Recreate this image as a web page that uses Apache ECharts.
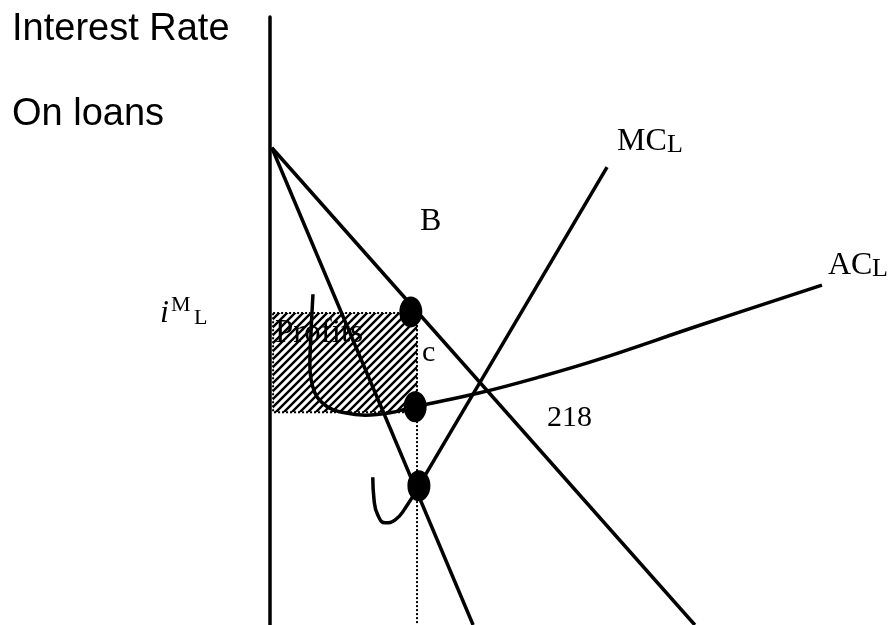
<!DOCTYPE html>
<html>
<head>
<meta charset="utf-8">
<script src="https://cdn.jsdelivr.net/npm/echarts@6/dist/echarts.min.js"></script>
<style>
  html, body { margin: 0; padding: 0; background: #fff; }
  #chart { width: 893px; height: 625px; }
</style>
</head>
<body>
<div id="chart"></div>
<script>
// quantity of loans on x (0..100), interest rate on y (0..100)
const demandCurve = [[0.3, 78.5], [68.2, 0]];
const mrCurve = [[0.3, 78.5], [32.6, 0]];
const mcHook = [[16.5, 24.3], [16.7, 20.6], [17.3, 18.1], [18.5, 16.8], [20.1, 17.3], [21.7, 19.2], [23.9, 22.9]];
const mcLine = [[23.9, 22.9], [54.1, 75.3]];
const acCurve = [[6.9, 54.4], [6.6, 48.5], [6.4, 42.8], [7.2, 38.2], [9.2, 35.9], [12.0, 34.9],
  [15.3, 34.5], [19.3, 34.9], [23.3, 35.9], [33.7, 38.2], [43.3, 40.8], [52.5, 43.6], [69.0, 49.3], [88.6, 55.9]];
const dots = [[22.6, 51.5], [23.3, 35.9], [23.9, 22.9]];
const qLoans = 23.6;          // monopoly quantity (dotted line)
const rateMono = 51.3;        // i^M_L
const avgCost = 35.0;         // c
const profitBox = [[0.5, rateMono, qLoans, avgCost]];
const qLine = [[qLoans, rateMono], [qLoans, 0]];

// hatch pattern for the profit area
function hatch() {
  const c = document.createElement('canvas');
  c.width = 8; c.height = 8;
  const g = c.getContext('2d');
  g.strokeStyle = '#000';
  g.lineWidth = 2.4;
  g.beginPath();
  g.moveTo(-2, 10); g.lineTo(10, -2);
  g.moveTo(-2, 2); g.lineTo(2, -2);
  g.moveTo(6, 10); g.lineTo(10, 6);
  g.stroke();
  return c;
}

const chart = echarts.init(document.getElementById('chart'));

const black = '#000';
const solid = { color: black, width: 3.5 };

function txt(x, y, text, font, size, style) {
  return {
    type: 'text', x: x, y: y,
    style: {
      text: text, fill: black,
      font: (style || '') + ' ' + size + 'px ' + font,
      verticalAlign: 'middle'
    }
  };
}
const sans = '"Liberation Sans", Arial, sans-serif';
const serif = '"Liberation Serif", "Times New Roman", serif';

const option = {
  animation: false,
  grid: { left: 270, right: 0, top: 17, bottom: 0 },
  xAxis: { type: 'value', min: 0, max: 100, show: false },
  yAxis: {
    type: 'value', min: 0, max: 100,
    axisLine: { show: true, lineStyle: { color: black, width: 3.5 } },
    axisTick: { show: false }, axisLabel: { show: false }, splitLine: { show: false }
  },
  graphic: [
    txt(12, 30, 'Interest Rate', sans, 38),
    txt(12, 115, 'On loans', sans, 38),
    txt(617, 142, 'MC', serif, 32),
    txt(667, 145, 'L', serif, 26),
    txt(828, 266, 'AC', serif, 32),
    txt(872, 269, 'L', serif, 26),
    txt(420, 222, 'B', serif, 32),
    txt(422, 353, 'c', serif, 30),
    txt(547, 418, '218', serif, 30),
    txt(275, 333, 'Profits', serif, 33),
    txt(160, 314, 'i', serif, 32, 'italic'),
    txt(171, 305, 'M', serif, 22),
    txt(194, 318, 'L', serif, 22)
  ],
  series: [
    {
      type: 'custom',
      data: profitBox,
      z: 1,
      renderItem: function (params, api) {
        const p0 = api.coord([api.value(0), api.value(1)]);
        const p1 = api.coord([api.value(2), api.value(3)]);
        return {
          type: 'rect',
          shape: { x: p0[0], y: p0[1], width: p1[0] - p0[0], height: p1[1] - p0[1] },
          style: {
            fill: { image: hatch(), repeat: 'repeat' },
            stroke: black, lineWidth: 2, lineDash: [2, 2]
          }
        };
      }
    },
    { type: 'line', data: qLine, symbol: 'none', lineStyle: { color: black, width: 2, type: [2, 2] } },
    { type: 'line', data: demandCurve, symbol: 'none', lineStyle: solid },
    { type: 'line', data: mrCurve, symbol: 'none', lineStyle: solid },
    { type: 'line', data: mcHook, symbol: 'none', smooth: 0.5, lineStyle: solid },
    { type: 'line', data: mcLine, symbol: 'none', lineStyle: solid },
    { type: 'line', data: acCurve, symbol: 'none', smooth: 0.4, lineStyle: solid },
    {
      type: 'scatter', data: dots, symbol: 'circle', symbolSize: [23, 31], z: 5,
      itemStyle: { color: black, opacity: 1 }
    }
  ]
};

chart.setOption(option);
</script>
</body>
</html>
